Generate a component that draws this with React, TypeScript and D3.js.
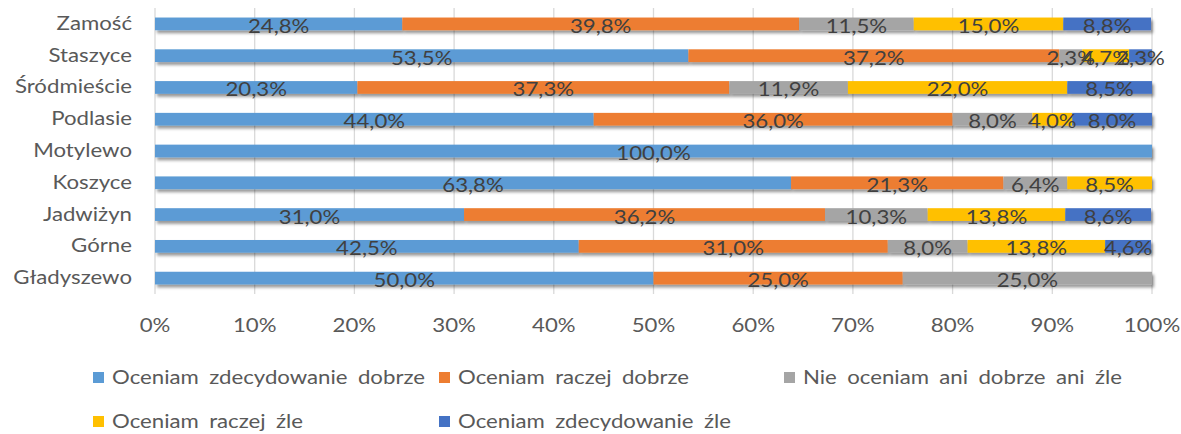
import * as d3 from "d3";

const categories = [
  "Zamość",
  "Staszyce",
  "Śródmieście",
  "Podlasie",
  "Motylewo",
  "Koszyce",
  "Jadwiżyn",
  "Górne",
  "Gładyszewo",
];

const seriesNames = [
  "Oceniam zdecydowanie dobrze",
  "Oceniam raczej dobrze",
  "Nie oceniam ani dobrze ani źle",
  "Oceniam raczej źle",
  "Oceniam zdecydowanie źle",
];

// one array per series, in category order
const zdecydowanieDobrze = [24.8, 53.5, 20.3, 44.0, 100.0, 63.8, 31.0, 42.5, 50.0];
const raczejDobrze = [39.8, 37.2, 37.3, 36.0, 0, 21.3, 36.2, 31.0, 25.0];
const aniDobrzeAniZle = [11.5, 2.3, 11.9, 8.0, 0, 6.4, 10.3, 8.0, 25.0];
const raczejZle = [15.0, 4.7, 22.0, 4.0, 0, 8.5, 13.8, 13.8, 0];
const zdecydowanieZle = [8.8, 2.3, 8.5, 8.0, 0, 0, 8.6, 4.6, 0];

const seriesValues = [zdecydowanieDobrze, raczejDobrze, aniDobrzeAniZle, raczejZle, zdecydowanieZle];
const colors = ["#5B9BD5", "#ED7D31", "#A5A5A5", "#FFC000", "#4472C4"];
const ticks = [0, 10, 20, 30, 40, 50, 60, 70, 80, 90, 100];

const width = 1181;
const height = 434;
const plot = { left: 155, right: 1152, top: 8, bottom: 294 };
const font = "Lato, 'Open Sans', sans-serif";
const stretch = 1.17; // the original text is a bit wider than Lato

// legend layout (two rows, three columns)
const legendPos = [
  { x: 93, y: 378 },
  { x: 439, y: 378 },
  { x: 784, y: 378 },
  { x: 93, y: 422 },
  { x: 439, y: 422 },
];

function Txt(props: { x: number; y: number; anchor?: string; children: any; style?: any }) {
  return (
    <text
      transform={`translate(${props.x},${props.y}) scale(${stretch},1)`}
      textAnchor={props.anchor || "start"}
      style={props.style}
    >
      {props.children}
    </text>
  );
}

export default function App() {
  const x = d3.scaleLinear().domain([0, 100]).range([plot.left, plot.right]);
  const y = d3
    .scaleBand()
    .domain(categories)
    .range([plot.top, plot.bottom])
    .paddingInner(0.6)
    .paddingOuter(0.3);

  const rows = categories.map((c, i) => {
    const obj: { [k: string]: number | string } = { cat: c };
    seriesNames.forEach((s, j) => (obj[s] = seriesValues[j][i]));
    return obj;
  });
  const stacked = d3.stack<any>().keys(seriesNames)(rows);
  const fmt = (v: number) => d3.format(".1f")(v).replace(".", ",") + "%";

  return (
    <svg
      width={width}
      height={height}
      style={{ position: "absolute", left: 0, top: 0, background: "#fff" }}
      fontFamily={font}
    >
      <defs>
        <filter id="shadow" x="-5%" y="-60%" width="110%" height="260%">
          <feDropShadow dx="2" dy="3" stdDeviation="1.6" floodColor="#000" floodOpacity="0.4" />
        </filter>
      </defs>

      {/* gridlines */}
      {ticks.map((t) => (
        <line
          key={t}
          x1={x(t)}
          x2={x(t)}
          y1={plot.top}
          y2={plot.bottom}
          stroke="#d9d9d9"
          strokeWidth={1.3}
        />
      ))}

      {/* bars */}
      {stacked.map((layer, j) => (
        <g key={layer.key} fill={colors[j]} filter="url(#shadow)">
          {layer.map((d: any, i: number) =>
            d[1] - d[0] > 0 ? (
              <rect
                key={i}
                x={x(d[0])}
                y={y(categories[i])}
                width={x(d[1]) - x(d[0])}
                height={y.bandwidth()}
              />
            ) : null
          )}
        </g>
      ))}

      {/* data labels */}
      {stacked.map((layer) => (
        <g key={"l" + layer.key} fill="#404040" fontSize={19}>
          {layer.map((d: any, i: number) =>
            d[1] - d[0] > 0 ? (
              <Txt
                key={i}
                anchor="middle"
                x={x((d[0] + d[1]) / 2)}
                y={(y(categories[i]) as number) + y.bandwidth() / 2 + 9}
              >
                {fmt(d[1] - d[0])}
              </Txt>
            ) : null
          )}
        </g>
      ))}

      {/* category labels */}
      <g fill="#595959" fontSize={19}>
        {categories.map((c) => (
          <Txt key={c} anchor="end" x={132} y={(y(c) as number) + y.bandwidth() / 2 + 6}>
            {c}
          </Txt>
        ))}
      </g>

      {/* x axis labels */}
      <g fill="#595959" fontSize={19}>
        {ticks.map((t) => (
          <Txt key={t} anchor="middle" x={x(t)} y={332}>
            {t + "%"}
          </Txt>
        ))}
      </g>

      {/* legend */}
      <g fill="#595959" fontSize={19}>
        {seriesNames.map((s, j) => (
          <g key={s} transform={`translate(${legendPos[j].x},${legendPos[j].y})`}>
            <rect x={0} y={-6} width={11} height={11} fill={colors[j]} />
            <Txt x={19} y={6} style={{ wordSpacing: "4px" }}>
              {s}
            </Txt>
          </g>
        ))}
      </g>
    </svg>
  );
}
